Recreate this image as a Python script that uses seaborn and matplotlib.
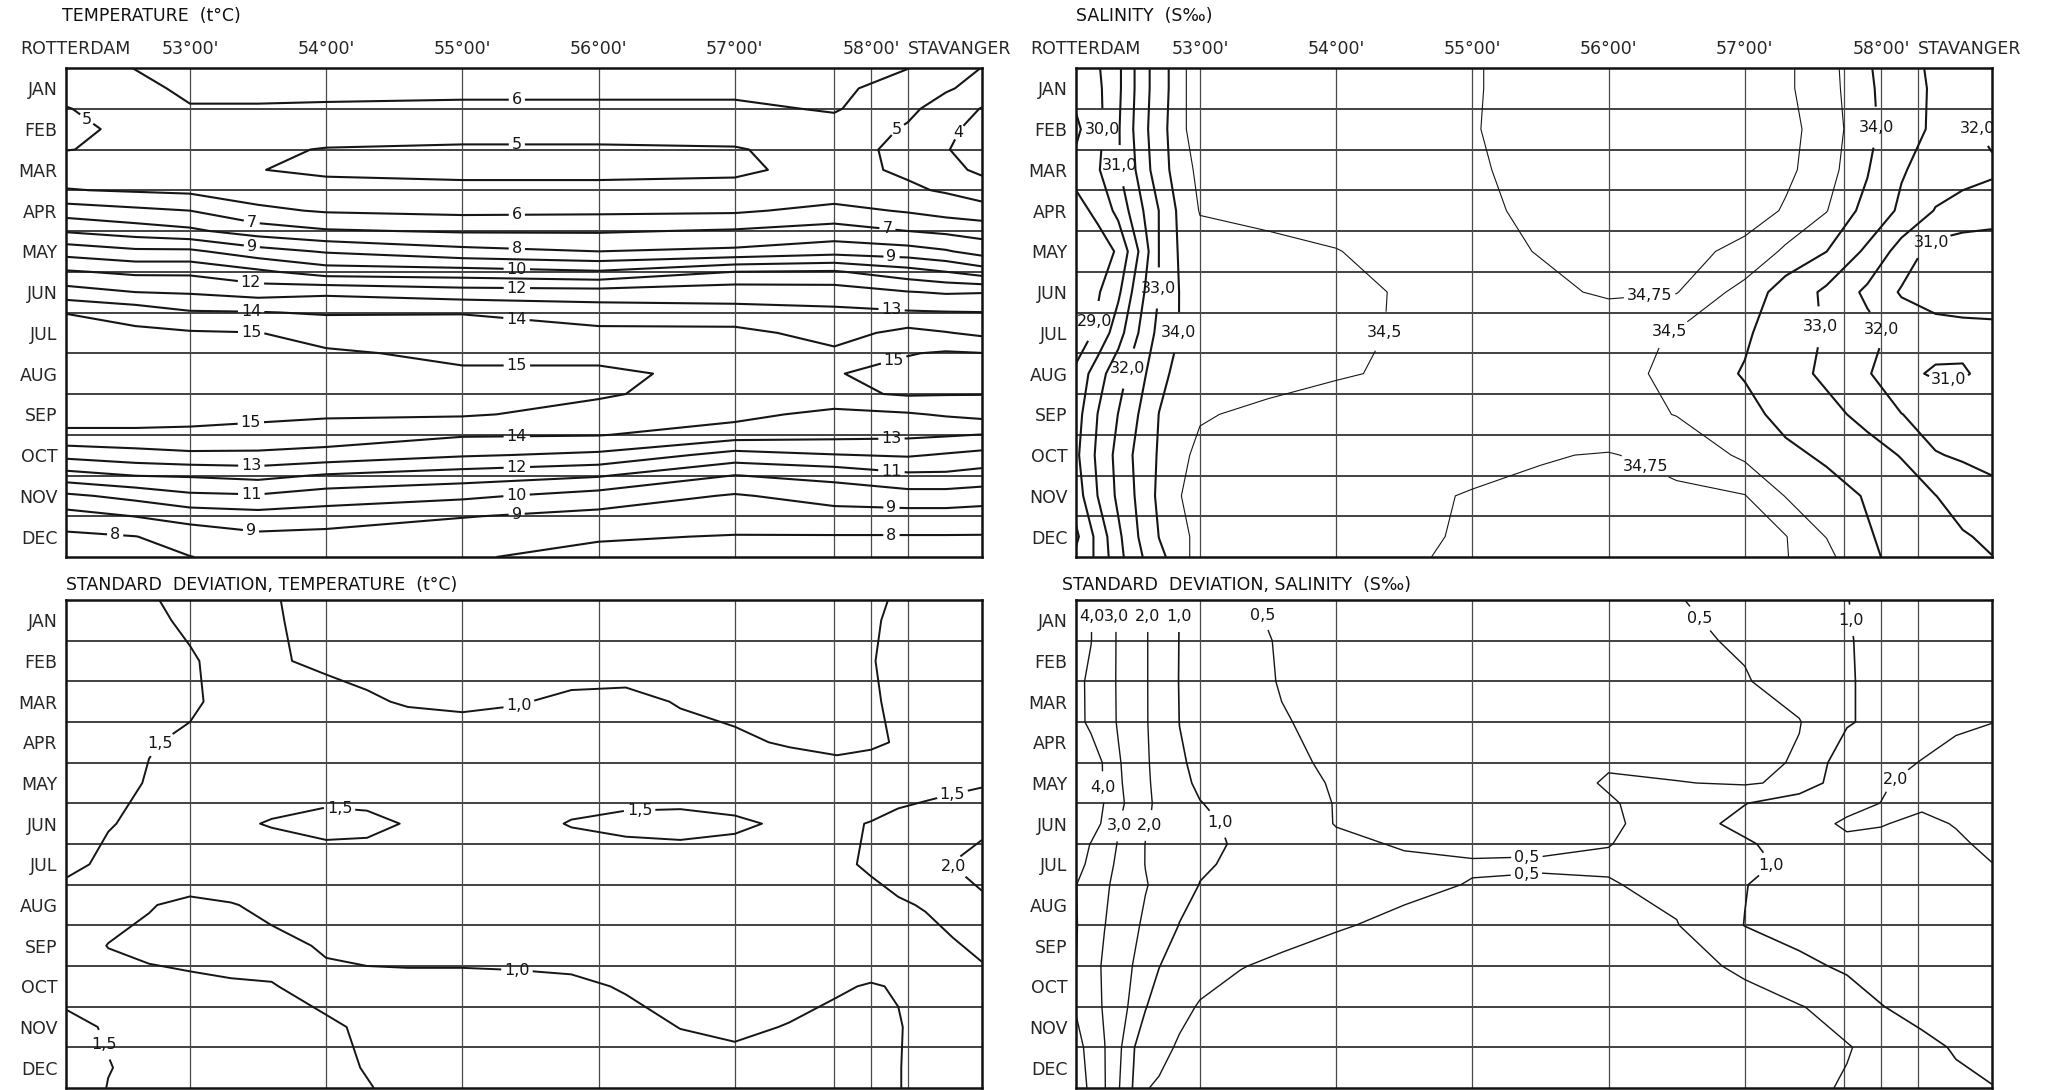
import numpy as np
import matplotlib
matplotlib.use("Agg")
import matplotlib.pyplot as plt
from matplotlib.transforms import blended_transform_factory
import seaborn as sns

MONTHS = ["JAN", "FEB", "MAR", "APR", "MAY", "JUN",
          "JUL", "AUG", "SEP", "OCT", "NOV", "DEC"]
LAT_TICKS = [52.16, 53.0, 54.0, 55.0, 56.0, 57.0, 58.0]
LAT_LABELS = ["ROTTERDAM", "53°00'", "54°00'", "55°00'", "56°00'", "57°00'", "58°00'"]
STATION_LINES = [53.0, 54.0, 55.0, 56.0, 57.0, 57.73, 58.0, 58.27]
X_EDGES = (52.09, 58.815)

# ---- temperature (t°C): rows = month position, cols = latitude
T_X = [52.09, 52.6, 53.0, 53.5, 54.0, 55.0, 56.0, 57.0, 57.73, 58.27, 58.55, 58.815]
T_Y = [0, 0.5, 1, 1.5, 2, 2.5, 3, 3.5, 4, 4.5, 5, 5.5, 6,
       6.5, 7, 7.5, 8, 8.5, 9, 9.5, 10, 10.5, 11, 11.5, 12]
T_VALUES = [
    [5.6, 6.02, 6.4, 6.6, 6.6, 6.6, 6.6, 6.5, 6.3, 6.02, 5.5, 4.98],
    [5.4, 5.8, 6.15, 6.3, 6.3, 6.25, 6.25, 6.25, 6.2, 5.6, 5.1, 4.7],
    [4.95, 5.5, 5.95, 5.9, 5.85, 5.8, 5.8, 5.8, 6.1, 5.2, 4.6, 3.95],
    [4.7, 5.3, 5.5, 5.4, 5.3, 5.3, 5.3, 5.3, 5.6, 4.9, 4.2, 3.7],
    [4.97, 5.2, 5.3, 5.1, 4.97, 4.9, 4.9, 4.95, 5.3, 4.8, 4.05, 3.6],
    [5.5, 5.4, 5.35, 5.02, 4.85, 4.8, 4.8, 4.85, 5.3, 4.85, 4.3, 3.8],
    [6.05, 5.9, 5.8, 5.5, 5.3, 5.2, 5.2, 5.25, 5.4, 5.15, 4.9, 4.5],
    [7.5, 7.2, 7.0, 6.2, 5.9, 5.75, 5.8, 5.85, 6.3, 5.9, 5.6, 5.4],
    [8.9, 8.5, 8.2, 7.5, 7.1, 6.9, 6.9, 7.1, 7.4, 7.0, 6.8, 6.6],
    [10.6, 10.2, 10.2, 9.4, 8.9, 8.3, 8.0, 8.2, 8.6, 8.4, 8.1, 7.6],
    [12.1, 11.8, 11.8, 11.2, 10.5, 10.4, 10.1, 11.0, 11.1, 10.4, 10.0, 9.5],
    [13.4, 13.0, 12.9, 12.6, 12.8, 12.45, 12.4, 12.6, 12.5, 12.05, 11.9, 11.95],
    [14.98, 14.6, 14.1, 14.05, 13.9, 13.95, 13.6, 13.3, 13.2, 13.1, 13.05, 13.02],
    [15.3, 15.2, 15.1, 15.02, 14.7, 14.5, 14.2, 14.3, 13.6, 14.3, 14.05, 13.8],
    [15.5, 15.4, 15.35, 15.2, 15.1, 14.85, 14.7, 14.6, 14.2, 14.95, 15.1, 15.02],
    [15.6, 15.6, 15.5, 15.4, 15.3, 15.1, 15.2, 14.7, 14.95, 15.3, 15.4, 15.4],
    [15.6, 15.6, 15.5, 15.4, 15.3, 15.2, 15.1, 14.6, 14.8, 15.1, 15.05, 15.03],
    [15.4, 15.4, 15.3, 15.2, 15.1, 15.1, 14.7, 14.3, 13.7, 13.9, 14.1, 14.3],
    [14.8, 14.8, 14.8, 14.7, 14.6, 14.1, 14.05, 13.5, 13.3, 13.2, 13.1, 12.98],
    [13.3, 13.6, 13.8, 13.8, 13.6, 13.1, 12.8, 11.6, 11.95, 12.1, 11.9, 11.7],
    [11.6, 12.02, 12.1, 12.3, 11.9, 11.5, 11.1, 9.98, 10.3, 10.8, 10.8, 10.6],
    [9.8, 10.3, 10.8, 10.9, 10.5, 10.2, 9.6, 8.9, 9.4, 9.6, 9.6, 9.5],
    [8.6, 9.02, 9.4, 9.6, 9.5, 9.05, 8.7, 8.5, 8.6, 8.6, 8.6, 8.5],
    [7.8, 7.98, 8.4, 8.8, 8.7, 8.4, 8.1, 7.95, 7.95, 7.95, 7.95, 7.95],
    [7.3, 7.5, 7.98, 8.3, 8.3, 8.1, 7.7, 7.4, 7.4, 7.4, 7.4, 7.4],
]
T_LEVELS = [4, 5, 6, 7, 8, 9, 10, 11, 12, 13, 14, 15]

# ---- salinity (S‰)
S_X = [52.09, 52.25, 52.4, 52.55, 52.7, 52.85, 53.0, 53.5, 54.0, 54.5, 55.0,
       55.5, 56.0, 56.5, 57.0, 57.3, 57.6, 57.9, 58.15, 58.4, 58.6, 58.815]
S_Y = [0, 0.5, 1.5, 2.5, 3.5, 4.5, 5.5, 6.5, 7.5, 8.5, 9.5, 10.5, 11.5, 12]
S_VALUES = [
    [29.6, 29.9, 30.8, 32.3, 33.6, 34.45, 34.6, 34.62, 34.65, 34.7, 34.74, 34.8, 34.82, 34.82, 34.8, 34.77, 34.68, 34.1, 33.4, 32.8, 32.5, 32.4],
    [29.3, 29.8, 30.8, 32.3, 33.6, 34.45, 34.6, 34.62, 34.65, 34.7, 34.74, 34.8, 34.82, 34.82, 34.8, 34.77, 34.68, 34.15, 33.45, 32.85, 32.5, 32.3],
    [28.8, 29.7, 30.9, 32.4, 33.7, 34.45, 34.6, 34.62, 34.66, 34.71, 34.74, 34.82, 34.84, 34.83, 34.8, 34.77, 34.72, 34.2, 33.5, 32.8, 32.2, 31.8],
    [29.3, 29.9, 30.9, 32.2, 33.6, 34.4, 34.55, 34.6, 34.65, 34.7, 34.73, 34.8, 34.83, 34.82, 34.8, 34.77, 34.7, 34.05, 33.1, 32.5, 32.3, 32.15],
    [28.7, 29.2, 30.3, 31.7, 33.02, 34.2, 34.52, 34.58, 34.62, 34.68, 34.72, 34.78, 34.82, 34.82, 34.8, 34.74, 34.52, 33.8, 32.8, 31.95, 31.7, 31.5],
    [28.3, 28.6, 29.1, 31.02, 33.02, 34.1, 34.35, 34.42, 34.49, 34.6, 34.68, 34.76, 34.8, 34.79, 34.72, 34.45, 34.01, 32.8, 31.6, 30.6, 30.4, 30.4],
    [28.5, 28.9, 29.8, 31.6, 33.02, 34.02, 34.3, 34.38, 34.44, 34.52, 34.6, 34.7, 34.78, 34.76, 34.4, 33.7, 32.8, 31.8, 30.9, 30.6, 30.5, 30.6],
    [28.4, 29.2, 30.6, 32.02, 33.3, 34.02, 34.3, 34.38, 34.45, 34.52, 34.58, 34.62, 34.6, 34.48, 34.1, 33.6, 32.9, 32.3, 31.7, 31.35, 31.3, 31.2],
    [29.2, 30.6, 31.6, 32.6, 33.7, 34.3, 34.45, 34.42, 34.48, 34.53, 34.56, 34.6, 34.57, 34.45, 33.95, 33.4, 32.8, 32.1, 31.2, 30.9, 30.9, 31.3],
    [29.6, 31.02, 32.02, 33.02, 34.02, 34.4, 34.48, 34.55, 34.6, 34.62, 34.64, 34.66, 34.62, 34.49, 34.2, 33.8, 33.3, 32.7, 32.02, 31.6, 31.55, 31.6],
    [29.8, 31.2, 32.3, 33.3, 34.1, 34.45, 34.55, 34.6, 34.63, 34.66, 34.7, 34.74, 34.76, 34.7, 34.45, 34.15, 33.9, 33.4, 32.95, 32.05, 31.9, 31.8],
    [29.5, 31.02, 32.2, 33.2, 34.2, 34.49, 34.6, 34.64, 34.68, 34.72, 34.76, 34.78, 34.8, 34.78, 34.76, 34.49, 34.25, 33.95, 33.5, 33.02, 32.5, 32.2],
    [28.8, 30.3, 31.8, 33.02, 34.02, 34.4, 34.6, 34.65, 34.7, 34.72, 34.77, 34.8, 34.82, 34.8, 34.78, 34.76, 34.49, 34.05, 33.8, 33.4, 33.1, 32.8],
    [29.2, 30.2, 31.7, 32.8, 33.8, 34.4, 34.6, 34.65, 34.7, 34.73, 34.78, 34.8, 34.82, 34.8, 34.78, 34.76, 34.62, 34.1, 33.85, 33.5, 33.2, 33.02],
]
S_LEVELS = [29, 30, 31, 32, 33, 34, 34.5, 34.75]

# ---- standard deviation, temperature
SDT_X = [52.09, 52.4, 52.7, 53.0, 53.3, 53.6, 54.0, 54.3, 54.6, 55.0, 55.4,
         55.8, 56.2, 56.6, 57.0, 57.4, 57.75, 58.0, 58.2, 58.4, 58.6, 58.815]
SDT_Y = [0, 0.5, 1.5, 2.5, 3.5, 4.5, 5.5, 6.5, 7.5, 8.5, 9.5, 10.5, 11.5, 12]
SDT_VALUES = [
    [1.9, 1.75, 1.55, 1.35, 1.15, 1.02, 0.9, 0.85, 0.82, 0.8, 0.8, 0.8, 0.8, 0.8, 0.8, 0.82, 0.88, 0.95, 1.03, 1.15, 1.2, 1.25],
    [1.95, 1.8, 1.62, 1.4, 1.18, 1.03, 0.9, 0.85, 0.82, 0.8, 0.8, 0.78, 0.78, 0.8, 0.8, 0.82, 0.9, 0.97, 1.05, 1.15, 1.2, 1.25],
    [2.0, 1.85, 1.7, 1.56, 1.3, 1.03, 0.95, 0.9, 0.88, 0.86, 0.86, 0.85, 0.85, 0.88, 0.88, 0.9, 0.94, 0.99, 1.05, 1.15, 1.2, 1.25],
    [2.0, 1.85, 1.7, 1.55, 1.4, 1.25, 1.1, 1.04, 0.97, 0.93, 0.98, 1.06, 1.08, 0.98, 0.92, 0.9, 0.92, 0.97, 1.05, 1.15, 1.2, 1.25],
    [1.95, 1.75, 1.52, 1.45, 1.35, 1.3, 1.25, 1.22, 1.2, 1.2, 1.18, 1.16, 1.14, 1.1, 1.05, 0.97, 0.93, 0.96, 1.02, 1.15, 1.2, 1.25],
    [1.85, 1.65, 1.47, 1.38, 1.35, 1.35, 1.35, 1.33, 1.3, 1.28, 1.3, 1.32, 1.33, 1.32, 1.3, 1.22, 1.15, 1.18, 1.25, 1.3, 1.38, 1.45],
    [1.75, 1.52, 1.42, 1.38, 1.45, 1.52, 1.6, 1.58, 1.48, 1.4, 1.38, 1.52, 1.58, 1.6, 1.55, 1.45, 1.42, 1.52, 1.65, 1.75, 1.82, 1.9],
    [1.6, 1.42, 1.35, 1.3, 1.3, 1.32, 1.35, 1.35, 1.33, 1.3, 1.28, 1.3, 1.33, 1.35, 1.35, 1.38, 1.43, 1.55, 1.7, 1.85, 2.01, 2.15],
    [1.3, 1.15, 1.02, 0.92, 0.98, 1.08, 1.15, 1.2, 1.22, 1.22, 1.22, 1.22, 1.22, 1.23, 1.25, 1.28, 1.32, 1.38, 1.45, 1.53, 1.7, 1.92],
    [1.2, 0.99, 0.92, 0.88, 0.88, 0.92, 1.03, 1.1, 1.12, 1.12, 1.12, 1.12, 1.12, 1.13, 1.15, 1.18, 1.2, 1.2, 1.28, 1.35, 1.45, 1.6],
    [1.3, 1.15, 1.1, 1.07, 1.03, 1.01, 0.93, 0.9, 0.9, 0.9, 0.92, 0.95, 1.02, 1.08, 1.1, 1.08, 1.03, 0.98, 1.02, 1.12, 1.25, 1.35],
    [1.65, 1.45, 1.3, 1.2, 1.12, 1.07, 1.03, 0.97, 0.92, 0.88, 0.86, 0.88, 0.92, 1.005, 1.04, 0.99, 0.92, 0.92, 0.98, 1.1, 1.18, 1.22],
    [1.85, 1.52, 1.35, 1.25, 1.15, 1.1, 1.05, 0.99, 0.94, 0.9, 0.88, 0.87, 0.88, 0.9, 0.93, 0.93, 0.92, 0.93, 0.99, 1.08, 1.15, 1.2],
    [1.9, 1.48, 1.35, 1.25, 1.17, 1.12, 1.06, 1.01, 0.95, 0.9, 0.88, 0.87, 0.87, 0.88, 0.9, 0.9, 0.9, 0.92, 0.99, 1.08, 1.15, 1.18],
]
SDT_LEVELS = [1.0, 1.5, 2.0]

# ---- standard deviation, salinity
SDS_X = [52.09, 52.2, 52.3, 52.4, 52.5, 52.6, 52.7, 52.85, 53.0, 53.3, 53.6, 54.0,
         54.5, 55.0, 55.5, 56.0, 56.5, 57.0, 57.4, 57.75, 58.0, 58.3, 58.55, 58.815]
SDS_Y = [0, 1, 2, 3, 4, 4.5, 5, 5.5, 6, 6.5, 7, 8, 9, 10, 11, 12]
SDS_VALUES = [
    [4.6, 4.02, 3.5, 2.9, 2.45, 2.08, 1.6, 0.99, 0.8, 0.53, 0.45, 0.38, 0.35, 0.33, 0.33, 0.38, 0.48, 0.65, 0.8, 0.99, 1.15, 1.35, 1.5, 1.7],
    [4.5, 4.02, 3.5, 2.9, 2.45, 2.08, 1.6, 0.98, 0.8, 0.6, 0.47, 0.38, 0.34, 0.32, 0.32, 0.35, 0.42, 0.55, 0.75, 0.97, 1.12, 1.35, 1.55, 1.75],
    [4.2, 3.85, 3.45, 2.9, 2.45, 2.08, 1.6, 0.97, 0.78, 0.62, 0.48, 0.38, 0.33, 0.3, 0.3, 0.32, 0.38, 0.47, 0.7, 0.96, 1.12, 1.4, 1.7, 1.9],
    [4.3, 3.8, 3.45, 2.92, 2.45, 2.08, 1.62, 0.99, 0.8, 0.65, 0.52, 0.42, 0.36, 0.32, 0.3, 0.3, 0.33, 0.38, 0.48, 0.95, 1.15, 1.45, 1.8, 1.98],
    [5.0, 4.5, 3.9, 3.1, 2.6, 2.1, 1.75, 1.08, 0.85, 0.7, 0.54, 0.47, 0.4, 0.35, 0.33, 0.48, 0.35, 0.35, 0.55, 1.3, 1.6, 2.05, 2.4, 2.6],
    [5.1, 4.6, 3.9, 3.15, 2.65, 2.12, 1.8, 1.15, 0.9, 0.72, 0.58, 0.48, 0.4, 0.36, 0.4, 0.52, 0.52, 0.45, 0.6, 1.4, 1.9, 2.3, 2.6, 2.8],
    [5.2, 4.7, 3.95, 3.25, 2.7, 2.15, 1.85, 1.4, 1.02, 0.78, 0.62, 0.49, 0.42, 0.38, 0.4, 0.48, 0.6, 0.98, 1.35, 1.8, 2.01, 2.15, 2.4, 2.6],
    [5.0, 4.5, 3.8, 3.05, 2.6, 2.1, 1.8, 1.55, 1.15, 0.85, 0.65, 0.49, 0.45, 0.42, 0.42, 0.45, 0.65, 1.2, 1.7, 2.1, 2.05, 1.8, 2.05, 2.4],
    [4.6, 3.95, 3.45, 2.95, 2.5, 1.98, 1.8, 1.6, 1.2, 0.9, 0.7, 0.55, 0.48, 0.45, 0.45, 0.49, 0.65, 0.9, 1.35, 1.85, 1.75, 1.7, 1.85, 2.2],
    [4.3, 3.8, 3.3, 2.85, 2.4, 1.98, 1.8, 1.5, 1.1, 0.85, 0.68, 0.58, 0.54, 0.52, 0.53, 0.55, 0.65, 0.85, 1.15, 1.45, 1.55, 1.6, 1.75, 1.98],
    [4.02, 3.6, 3.15, 2.75, 2.4, 2.05, 1.8, 1.35, 0.98, 0.8, 0.68, 0.6, 0.55, 0.49, 0.46, 0.47, 0.62, 0.98, 1.3, 1.5, 1.55, 1.6, 1.7, 1.8],
    [4.05, 3.55, 3.02, 2.6, 2.2, 1.85, 1.55, 0.97, 0.82, 0.7, 0.6, 0.52, 0.45, 0.4, 0.38, 0.4, 0.48, 1.01, 1.25, 1.4, 1.45, 1.5, 1.55, 1.6],
    [4.02, 3.4, 2.85, 2.4, 2.02, 1.45, 1.01, 0.8, 0.65, 0.51, 0.45, 0.4, 0.37, 0.35, 0.33, 0.35, 0.4, 0.55, 0.85, 1.1, 1.25, 1.35, 1.45, 1.5],
    [3.9, 3.4, 2.9, 2.35, 1.85, 1.02, 0.82, 0.6, 0.47, 0.4, 0.36, 0.33, 0.3, 0.3, 0.3, 0.31, 0.34, 0.4, 0.48, 0.65, 0.98, 1.2, 1.3, 1.4],
    [4.4, 3.6, 3.02, 2.3, 1.05, 0.8, 0.62, 0.45, 0.38, 0.33, 0.3, 0.3, 0.28, 0.28, 0.28, 0.28, 0.3, 0.34, 0.4, 0.48, 0.6, 0.85, 1.05, 1.2],
    [4.8, 3.7, 3.05, 2.1, 1.02, 0.52, 0.45, 0.38, 0.33, 0.3, 0.28, 0.27, 0.26, 0.26, 0.26, 0.26, 0.28, 0.32, 0.42, 0.53, 0.62, 0.75, 0.88, 0.98],
]
SDS_LEVELS = [0.5, 1.0, 2.0, 3.0, 4.0]

# where the isoline numbers sit (lat, month)
T_LABEL_SPOTS = [(55.4, 0.78), (52.2, 1.45), (55.4, 1.95), (58.18, 1.45), (58.6, 1.5),
                 (55.4, 3.7), (53.45, 3.85), (58.12, 3.97), (55.4, 4.43), (53.45, 4.5),
                 (58.15, 4.7), (55.4, 4.88), (53.45, 5.2), (55.4, 5.42), (53.45, 5.85),
                 (58.15, 6.0), (55.4, 6.05), (53.45, 6.45), (55.4, 7.17), (58.15, 6.97),
                 (53.45, 8.88), (55.4, 9.08), (53.45, 9.82), (58.15, 9.0), (55.4, 9.8),
                 (53.45, 10.55), (58.15, 9.9), (55.4, 10.6), (53.45, 11.3), (55.4, 11.05),
                 (58.15, 10.8), (52.45, 11.5), (58.15, 11.3)]
S_LABEL_SPOTS = [(52.3, 1.5), (52.43, 2.4), (52.75, 5.4), (52.88, 6.5), (52.2, 6.2),
                 (52.5, 7.4), (54.42, 6.5), (56.45, 6.5), (56.3, 5.55), (56.3, 9.55),
                 (58.0, 1.45), (58.7, 1.45), (58.4, 4.4), (57.57, 6.35), (58.03, 6.35),
                 (58.5, 7.55)]
SDT_LABEL_SPOTS = [(52.77, 3.5), (55.4, 2.4), (54.1, 5.05), (56.3, 5.05), (58.6, 4.8),
                   (58.62, 6.5), (55.4, 9.14), (52.4, 10.9)]
SDS_LABEL_SPOTS = [(52.19, 0.4), (52.38, 0.4), (52.62, 0.4), (52.87, 0.4), (53.44, 0.4),
                   (56.62, 0.6), (57.78, 0.5), (52.28, 4.6), (52.4, 5.55), (52.63, 5.55),
                   (53.12, 5.55), (55.4, 6.28), (55.4, 6.9), (57.2, 6.55), (58.14, 4.55)]


def comma_fmt(v):
    s = f"{v:.2f}".rstrip("0")
    if s.endswith("."):
        s += "0"
    return s.replace(".", ",")


def int_fmt(v):
    return str(int(round(v)))


def draw_panel(ax, x, y, values, levels, widths, fmt, spots, top_labels):
    ax.set_xlim(*X_EDGES)
    ax.set_ylim(12, 0)
    for m in range(1, 12):
        ax.axhline(m, color="#333333", lw=1.3, zorder=1)
    for lat in STATION_LINES:
        ax.axvline(lat, color="#4a4a4a", lw=0.9, zorder=1)

    cs = ax.contour(x, y, np.array(values), levels=levels, colors="#161616",
                    linewidths=widths, zorder=3)
    texts = ax.clabel(cs, fmt=fmt, fontsize=11.5, inline=True,
                      inline_spacing=3, manual=spots)
    for t in texts:
        t.set_rotation(0)

    ax.set_yticks([m + 0.5 for m in range(12)])
    ax.set_yticklabels(MONTHS)
    ax.tick_params(axis="y", length=0, pad=6, labelsize=12.5)
    if top_labels:
        ax.xaxis.tick_top()
        ax.set_xticks(LAT_TICKS)
        ax.set_xticklabels(LAT_LABELS)
        ax.tick_params(axis="x", length=0, pad=7, labelsize=12.5)
        trans = blended_transform_factory(ax.transData, ax.transAxes)
        ax.annotate("STAVANGER", xy=(58.27, 1.0), xycoords=trans,
                    xytext=(0, 7), textcoords="offset points",
                    ha="left", va="bottom", fontsize=12.5)
    else:
        ax.set_xticks([])
    for sp in ax.spines.values():
        sp.set_linewidth(1.8)
        sp.set_color("#111111")


sns.set_theme(style="white")
plt.rcParams["font.family"] = ["DejaVu Sans"]

W, H = 2062, 1090
fig = plt.figure(figsize=(W / 100, H / 100), dpi=100)
fig.patch.set_facecolor("white")


def rect(left, top, right, bottom):
    return [left / W, 1 - bottom / H, (right - left) / W, (bottom - top) / H]


ax_t = fig.add_axes(rect(66, 68, 982, 557))
ax_s = fig.add_axes(rect(1076, 68, 1992, 557))
ax_dt = fig.add_axes(rect(66, 600, 982, 1088))
ax_ds = fig.add_axes(rect(1076, 600, 1992, 1088))

draw_panel(ax_t, T_X, T_Y, T_VALUES, T_LEVELS, 1.5, int_fmt, T_LABEL_SPOTS, True)
s_widths = [0.8 if lv > 34.2 else 1.5 for lv in S_LEVELS]
draw_panel(ax_s, S_X, S_Y, S_VALUES, S_LEVELS, s_widths, comma_fmt, S_LABEL_SPOTS, True)
draw_panel(ax_dt, SDT_X, SDT_Y, SDT_VALUES, SDT_LEVELS, 1.4, comma_fmt, SDT_LABEL_SPOTS, False)
sds_widths = [1.0, 1.2, 1.0, 1.0, 1.0]
draw_panel(ax_ds, SDS_X, SDS_Y, SDS_VALUES, SDS_LEVELS, sds_widths, comma_fmt, SDS_LABEL_SPOTS, False)

title_kw = dict(fontsize=12.5, va="center", ha="left", color="#111111")
fig.text(62 / W, 1 - 16 / H, "TEMPERATURE  (t°C)", **title_kw)
fig.text(1076 / W, 1 - 16 / H, "SALINITY  (S‰)", **title_kw)
fig.text(66 / W, 1 - 585 / H, "STANDARD  DEVIATION, TEMPERATURE  (t°C)", **title_kw)
fig.text(1062 / W, 1 - 585 / H, "STANDARD  DEVIATION, SALINITY  (S‰)", **title_kw)

fig.savefig("out.png", dpi=100, facecolor="white")
